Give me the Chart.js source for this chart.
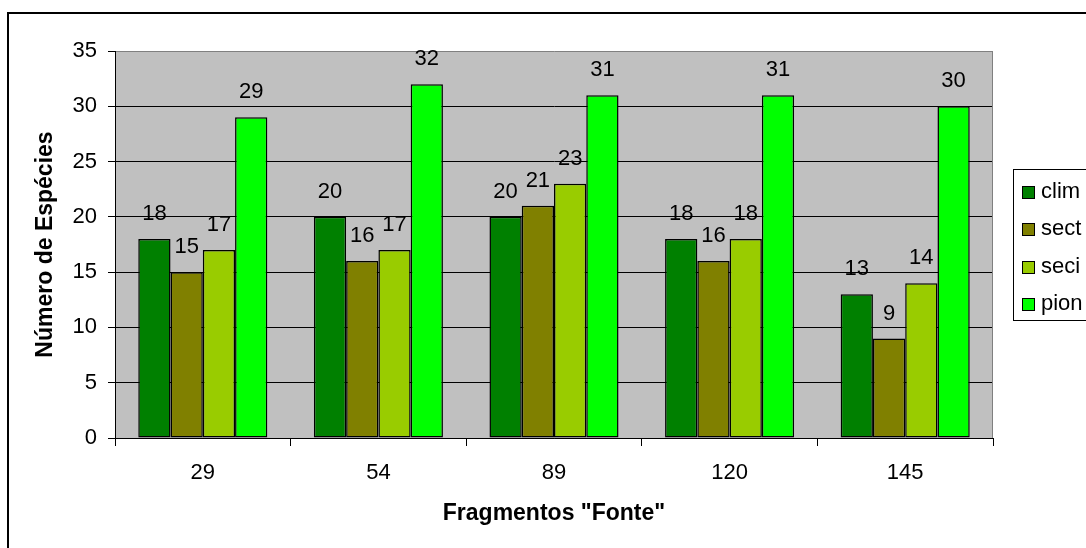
<!DOCTYPE html>
<html>
<head>
<meta charset="utf-8">
<script src="https://cdn.jsdelivr.net/npm/chart.js@4.4.1/dist/chart.umd.min.js"></script>
<style>
  html, body { margin: 0; padding: 0; background: #fff; }
  canvas { display: block; }
</style>
</head>
<body>
<canvas id="c" width="1086" height="548"></canvas>
<script>
// Fragments and species counts per ecological group
const categories = ['29', '54', '89', '120', '145'];
const seriesNames = ['clim', 'sect', 'seci', 'pion'];
const clim = [18, 20, 20, 18, 13];
const sect = [15, 16, 21, 16, 9];
const seci = [17, 17, 23, 18, 14];
const pion = [29, 32, 31, 31, 30];
const yTicks = [0, 5, 10, 15, 20, 25, 30, 35];
const seriesColors = ['#008000', '#808000', '#99CC00', '#00FF00'];

const FONT = "'Liberation Sans', Arial, sans-serif";
const FS = 22;
const TITLE_FS = 23;

// Page frame, grey plot background and plot edge
const framePlugin = {
  id: 'frame',
  beforeDraw(chart) {
    const { ctx, chartArea: a } = chart;
    ctx.save();
    ctx.fillStyle = '#fff';
    ctx.fillRect(0, 0, chart.width, chart.height);
    ctx.strokeStyle = '#000';
    ctx.lineWidth = 2;
    ctx.strokeRect(8, 13, chart.width + 20, chart.height + 20);
    ctx.fillStyle = '#C0C0C0';
    ctx.fillRect(a.left, a.top, a.right - a.left, a.bottom - a.top);
    ctx.restore();
  },
  beforeDatasetsDraw(chart) {
    const { ctx, chartArea: a } = chart;
    ctx.save();
    ctx.strokeStyle = '#808080';
    ctx.lineWidth = 1;
    ctx.beginPath();
    ctx.moveTo(Math.round(a.right) - 0.5, a.top);
    ctx.lineTo(Math.round(a.right) - 0.5, a.bottom);
    ctx.stroke();
    ctx.restore();
  }
};

// Value labels above each bar
const valueLabels = {
  id: 'valueLabels',
  afterDatasetsDraw(chart) {
    const { ctx } = chart;
    ctx.save();
    ctx.font = FS + 'px ' + FONT;
    ctx.fillStyle = '#000';
    ctx.textAlign = 'center';
    ctx.textBaseline = 'middle';
    chart.data.datasets.forEach((ds, i) => {
      chart.getDatasetMeta(i).data.forEach((bar, j) => {
        ctx.fillText(String(ds.data[j]), bar.x, bar.y - 25);
      });
    });
    ctx.restore();
  }
};

// Legend box at the right edge
const sideLegend = {
  id: 'sideLegend',
  afterDraw(chart) {
    const { ctx } = chart;
    const x0 = 1013, y0 = 169, h = 151;
    ctx.save();
    ctx.fillStyle = '#fff';
    ctx.fillRect(x0, y0, 200, h);
    ctx.strokeStyle = '#000';
    ctx.lineWidth = 1;
    ctx.strokeRect(x0 + 0.5, y0 + 0.5, 200, h);
    ctx.font = FS + 'px ' + FONT;
    ctx.textAlign = 'left';
    ctx.textBaseline = 'middle';
    chart.data.datasets.forEach((ds, i) => {
      const cy = 192 + i * 37.3;
      ctx.fillStyle = ds.backgroundColor;
      ctx.fillRect(1022, Math.round(cy) - 6, 12, 12);
      ctx.strokeStyle = '#000';
      ctx.strokeRect(1022.5, Math.round(cy) - 5.5, 12, 12);
      ctx.fillStyle = '#000';
      ctx.fillText(ds.label, 1041, cy);
    });
    ctx.restore();
  }
};

const seriesData = [clim, sect, seci, pion];

new Chart(document.getElementById('c'), {
  type: 'bar',
  data: {
    labels: categories,
    datasets: seriesNames.map((name, i) => ({
      label: name,
      data: seriesData[i],
      backgroundColor: seriesColors[i],
      borderColor: '#000',
      borderWidth: 1.5,
      borderSkipped: false,
      barPercentage: 1,
      categoryPercentage: 0.735
    }))
  },
  options: {
    responsive: false,
    animation: false,
    devicePixelRatio: 1,
    layout: { padding: { left: 0, top: 51, right: 93, bottom: 0 } },
    plugins: { legend: { display: false }, tooltip: { enabled: false } },
    scales: {
      x: {
        type: 'category',
        offset: true,
        afterFit(s) { s.height = 110; },
        grid: { offset: true, drawOnChartArea: false, tickLength: 8, color: '#000', tickColor: '#000' },
        border: { color: '#000', width: 1 },
        ticks: { color: '#000', font: { family: FONT, size: FS }, padding: 14, maxRotation: 0 },
        title: {
          display: true,
          text: 'Fragmentos "Fonte"',
          color: '#000',
          font: { family: FONT, size: TITLE_FS, weight: 'bold' },
          padding: { top: 0, bottom: 21 }
        }
      },
      y: {
        min: 0,
        max: 35,
        afterFit(s) { s.width = 115; },
        afterBuildTicks(s) { s.ticks = yTicks.map(v => ({ value: v })); },
        grid: {
          color: c => (c.tick && c.tick.value === 35 ? '#808080' : '#000'),
          tickColor: '#000',
          tickLength: 7,
          lineWidth: 1
        },
        border: { color: '#000', width: 1 },
        ticks: { color: '#000', font: { family: FONT, size: FS }, padding: 11 },
        title: {
          display: true,
          text: 'Número de Espécies',
          color: '#000',
          font: { family: FONT, size: TITLE_FS, weight: 'bold' },
          padding: { top: 32, bottom: 0 }
        }
      }
    }
  },
  plugins: [framePlugin, valueLabels, sideLegend]
});
</script>
</body>
</html>
